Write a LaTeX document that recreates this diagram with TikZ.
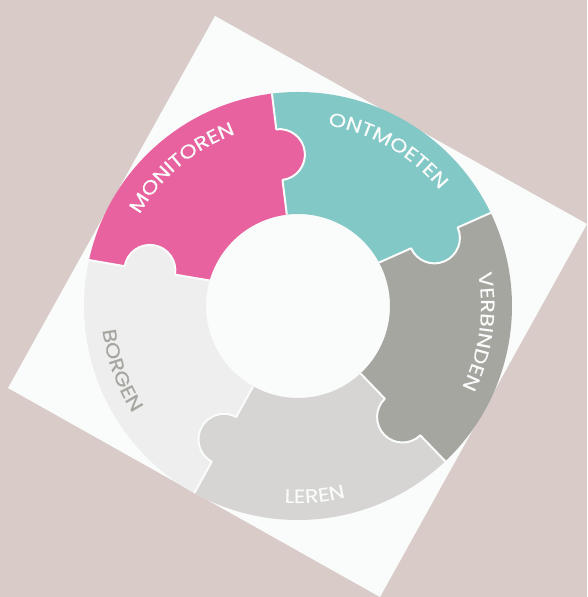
\documentclass[tikz,border=0pt]{standalone}
\usepackage{fontspec}
\usetikzlibrary{decorations.text,calc}
\newfontfamily\lblfont[FakeStretch=1.17,FakeBold=0.25]{Poppins}
\definecolor{bgc}{HTML}{D8CBC8}
\definecolor{paper}{HTML}{FAFCFB}
\definecolor{pinkc}{HTML}{E8629F}
\definecolor{tealc}{HTML}{82C8C6}
\definecolor{darkg}{HTML}{A5A69F}
\definecolor{midg}{HTML}{D6D5D3}
\definecolor{lightg}{HTML}{EEEEEE}
% seam: name, inner angle, outer angle, direction of the seam
\newcommand{\seamdef}[4]{%
  \coordinate (i#1) at (#2:92);
  \coordinate (o#1) at (#3:214);
  \coordinate (a#1) at ($(i#1)!0.287!(o#1)$);
  \coordinate (b#1) at ($(i#1)!0.705!(o#1)$);
  \expandafter\def\csname ai#1\endcsname{#2}%
  \expandafter\def\csname ao#1\endcsname{#3}%
  \expandafter\def\csname dir#1\endcsname{#4}}
\newcommand{\ang}[2]{\csname #1#2\endcsname}
% piece: clockwise seam, counter-clockwise seam, colour
\newcommand{\piece}[3]{%
  \pgfmathsetmacro\outerdelta{mod(\ang{ao}{#2}-\ang{ao}{#1}+360,360)}%
  \pgfmathsetmacro\innerdelta{mod(\ang{ai}{#2}-\ang{ai}{#1}+360,360)}%
  \fill[#3] (i#1) -- (a#1)
    arc[start angle=\ang{dir}{#1}+180,delta angle=180,radius=25.5] -- (o#1)
    arc[start angle=\ang{ao}{#1},delta angle=\outerdelta,radius=214]
    -- (b#2) arc[start angle=\ang{dir}{#2},delta angle=-180,radius=25.5] -- (i#2)
    arc[start angle=\ang{ai}{#2},delta angle=-\innerdelta,radius=92] -- cycle;}
\newcommand{\seam}[1]{%
  \draw[seamline] (i#1) -- (a#1)
    arc[start angle=\ang{dir}{#1}+180,delta angle=180,radius=25.5] -- (o#1);}
\newcommand{\arclabel}[5]{% text, start, end, radius, colour
  \path[decorate,decoration={text along path,text align=center,
    text={|\lblfont\fontsize{19}{19}\selectfont\color{#5}|#1}}]
    (#2:#4) arc[start angle=#2,end angle=#3,radius=#4];}
\begin{document}
\begin{tikzpicture}[x=1pt,y=1pt,seamline/.style={paper,line width=2pt,line join=round}]
\useasboundingbox (0,0) rectangle (587,597);
\fill[bgc] (0,0) rectangle (587,597);
\fill[paper] (215,581) -- (587,373) -- (380,0) -- (8,209) -- cycle;
\begin{scope}[shift={(298,291)}]
\seamdef{A}{97}{97}{97}
\seamdef{B}{28.2}{25.8}{24}
\seamdef{C}{-47.2}{-46.5}{-46}
\seamdef{D}{240.8}{241}{241.3}
\seamdef{E}{163.9}{167.6}{170.5}
\piece{A}{E}{pinkc}
\piece{B}{A}{tealc}
\piece{C}{B}{darkg}
\piece{D}{C}{midg}
\piece{E}{D}{lightg}
\seam{A}\seam{B}\seam{C}\seam{D}\seam{E}
\arclabel{MONITOREN}{170}{90}{183}{paper}
\arclabel{ONTMOETEN}{100}{20}{183}{paper}
\arclabel{VERBINDEN}{32}{-48}{183}{paper}
\arclabel{LEREN}{245}{305}{197}{paper}
\arclabel{BORGEN}{170}{230}{197}{darkg}
\end{scope}
\end{tikzpicture}
\end{document}
